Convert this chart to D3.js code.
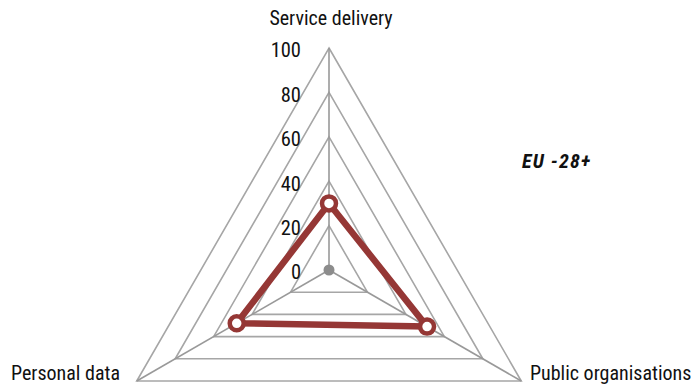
<!DOCTYPE html>
<html><head><meta charset="utf-8">
<script src="https://cdn.jsdelivr.net/npm/d3@7"></script>
<style>html,body{margin:0;padding:0;background:#fff;}svg{display:block;}
text{font-family:"Liberation Sans Narrow","Arial Narrow","Roboto Condensed",sans-serif;}</style>
</head><body><svg id="c" width="693" height="385"></svg>
<script>
const categories = ["Service delivery", "Public organisations", "Personal data"];
const values = [30, 51, 48];
const ticks = [0, 20, 40, 60, 80, 100];
const seriesName = "EU -28+";

const svg = d3.select("#c");
const cx = 329, cy = 270, R = 222;
const r = d3.scaleLinear().domain([0, 100]).range([0, R]);
const angle = i => -Math.PI / 2 + i * 2 * Math.PI / categories.length;
const pt = (i, v) => [cx + r(v) * Math.cos(angle(i)), cy + r(v) * Math.sin(angle(i))];

const g = svg.append("g");
ticks.filter(t => t > 0).forEach(t => {
  g.append("path")
    .attr("d", d3.line()(categories.map((c, i) => pt(i, t))) + "Z")
    .attr("fill", "none").attr("stroke", "#a6a6a6").attr("stroke-width", 1.6);
});
categories.forEach((c, i) => {
  const p = pt(i, 100);
  g.append("line").attr("x1", cx).attr("y1", cy).attr("x2", p[0]).attr("y2", p[1])
    .attr("stroke", "#999").attr("stroke-width", 1.6);
});
g.append("circle").attr("cx", cx).attr("cy", cy).attr("r", 5.5).attr("fill", "#8c8c8c");

ticks.forEach(t => {
  g.append("text").attr("x", cx - 28).attr("y", cy - r(t) + 4)
    .attr("text-anchor", "end").attr("dominant-baseline", "middle")
    .attr("font-size", 20.5).attr("fill", "#111").text(t);
});

const lp = [
  {x: cx + 2, y: 20, anchor: "middle"},
  {x: 530, y: 375, anchor: "start"},
  {x: 120, y: 375, anchor: "end"}
];
categories.forEach((c, i) => {
  g.append("text").attr("x", lp[i].x).attr("y", lp[i].y)
    .attr("text-anchor", lp[i].anchor).attr("dominant-baseline", "middle")
    .attr("font-size", 20).attr("fill", "#111").text(c);
});

const pts = values.map((v, i) => pt(i, v));
g.append("path").attr("d", d3.line()(pts) + "Z")
  .attr("fill", "none").attr("stroke", "#953735").attr("stroke-width", 6.5)
  .attr("stroke-linejoin", "round");
g.selectAll("circle.m").data(pts).join("circle").attr("class", "m")
  .attr("cx", d => d[0]).attr("cy", d => d[1]).attr("r", 7)
  .attr("fill", "#fff").attr("stroke", "#953735").attr("stroke-width", 4.5);

g.append("text").attr("x", 522).attr("y", 163).attr("dominant-baseline", "middle")
  .attr("font-size", 20).attr("font-weight", "bold").attr("font-style", "italic")
  .attr("letter-spacing", 1.2).attr("fill", "#111").text(seriesName);
</script></body></html>
